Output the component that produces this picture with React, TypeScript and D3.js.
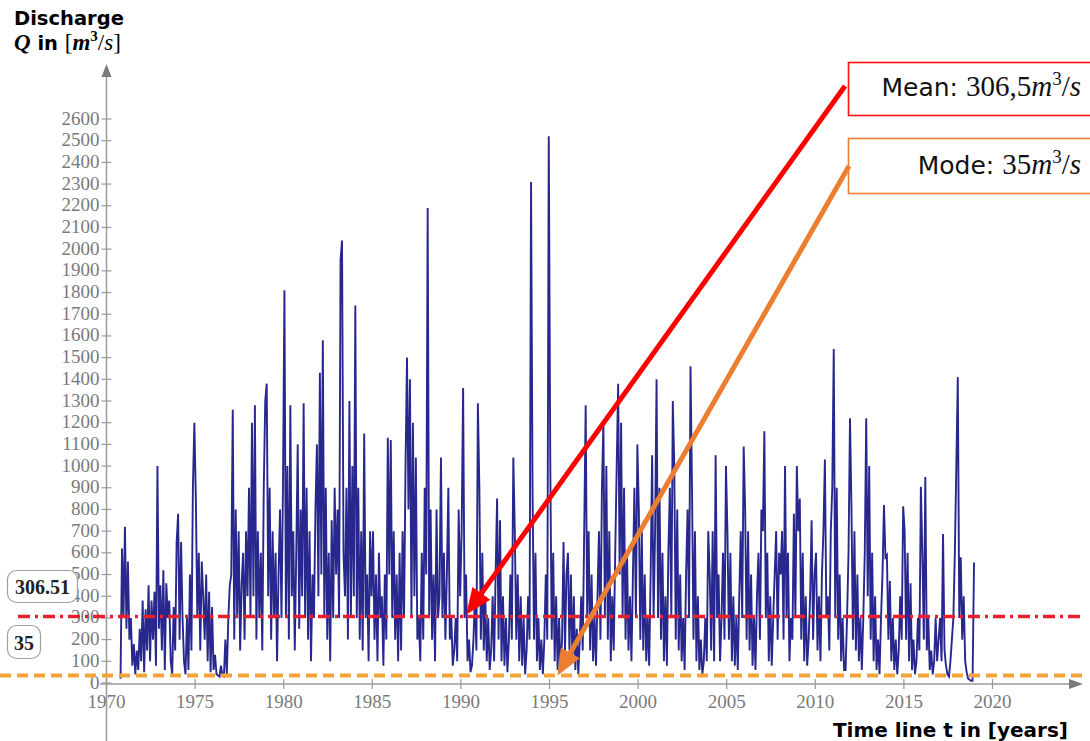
import React from "react";
import * as d3 from "d3";

// Monthly discharge values [m³/s], starting October 1970
const q1970s = [
  20, 620, 300,
  720, 250, 560, 200, 300, 80, 180, 40, 150, 60, 250, 100,
  380, 50, 340, 150, 450, 100, 380, 200, 420, 80, 1000, 250,
  450, 150, 520, 60, 460, 300, 380, 100, 40, 350, 150, 650,
  780, 200, 650, 300, 100, 40, 300, 60, 500, 150, 900, 1200,
  850, 300, 600, 150, 560, 400, 200, 500, 100, 420, 50, 350,
  60, 130, 40, 35, 30, 80, 35, 30, 200, 40, 300, 450,
  500, 1260, 200, 800, 300, 700, 150, 450, 600, 200, 700, 400,
  900, 300, 1200, 400, 1280, 200, 700, 300, 600, 150, 900, 1300,
  1380, 400, 900, 200, 700, 300, 600, 100, 500, 800, 300, 900,
];
const q1980s = [
  1810, 300, 1000, 200, 1280, 400, 700, 150, 600, 1100, 250, 800,
  400, 1290, 300, 900, 200, 700, 100, 500, 300, 800, 1100, 400,
  1430, 500, 1580, 300, 900, 200, 600, 100, 750, 300, 900, 500,
  800, 300, 1950, 2040, 600, 400, 900, 200, 1300, 300, 1000, 400,
  1740, 300, 900, 200, 700, 150, 1150, 300, 500, 100, 700, 400,
  700, 200, 500, 100, 600, 300, 400, 80, 500, 200, 1130, 500,
  1120, 300, 700, 200, 500, 100, 600, 150, 700, 300, 1000, 1500,
  800, 1400, 300, 1200, 400, 1040, 200, 300, 100, 600, 200, 900,
  500, 2190, 300, 800, 200, 500, 100, 800, 300, 400, 1040, 300,
  600, 200, 500, 900, 200, 300, 80, 150, 300, 100, 800, 400,
];
const q1990s = [
  700, 1360, 300, 500, 100, 200, 50, 80, 200, 400, 150, 1290,
  900, 200, 600, 150, 400, 100, 300, 60, 150, 400, 100, 500,
  850, 200, 750, 100, 400, 80, 300, 50, 200, 500, 200, 1040,
  700, 200, 500, 100, 400, 80, 300, 40, 150, 400, 200, 2310,
  900, 200, 600, 100, 300, 60, 200, 40, 200, 500, 200, 2520,
  1040, 200, 600, 100, 400, 60, 300, 50, 200, 650, 150, 500,
  600, 150, 500, 100, 400, 60, 250, 40, 200, 400, 150, 700,
  1280, 300, 700, 150, 500, 100, 300, 80, 400, 700, 200, 900,
  1200, 300, 1000, 200, 700, 100, 400, 150, 600, 1000, 1380, 500,
  1200, 300, 900, 200, 600, 150, 400, 100, 500, 900, 300, 1100,
];
const q2000s = [
  800, 200, 700, 150, 500, 100, 300, 80, 500, 1050, 300, 700,
  1400, 300, 900, 200, 600, 100, 400, 80, 600, 900, 300, 1300,
  1000, 200, 800, 150, 500, 100, 300, 60, 500, 800, 300, 1460,
  900, 200, 700, 100, 400, 60, 200, 40, 100, 300, 100, 700,
  500, 150, 700, 100, 1050, 300, 500, 100, 300, 600, 200, 1000,
  700, 200, 600, 100, 400, 80, 300, 60, 400, 700, 300, 1090,
  800, 200, 700, 150, 500, 80, 300, 60, 400, 600, 200, 800,
  700, 1160, 300, 600, 100, 400, 80, 300, 500, 700, 200, 600,
  500, 700, 200, 1000, 300, 600, 100, 300, 200, 780, 300, 1000,
  700, 850, 200, 600, 100, 400, 80, 200, 400, 750, 200, 500,
];
const q2010s = [
  600, 150, 400, 100, 500, 700, 1030, 300, 400, 150, 700, 900,
  1540, 300, 900, 200, 500, 100, 300, 60, 60, 300, 600, 1220,
  800, 200, 700, 150, 500, 100, 300, 60, 300, 600, 1220, 400,
  1000, 200, 600, 100, 400, 60, 200, 40, 300, 500, 820, 580,
  590, 200, 470, 100, 300, 60, 200, 40, 150, 400, 200, 815,
  700, 200, 600, 100, 460, 60, 200, 40, 100, 300, 150, 905,
  600, 200, 950, 150, 300, 60, 150, 40, 100, 300, 100, 200,
  300, 100, 687, 150, 80, 40, 30, 100, 200, 300, 600, 1000,
  1410, 300, 580, 200, 400, 100, 50, 20, 15, 10, 10, 555,
];
const seriesStart = 1970 + 9 / 12;

const yTicks = d3.range(0, 2700, 100);
const xTicks = [1970, 1975, 1980, 1985, 1990, 1995, 2000, 2005, 2010, 2015, 2020];
const meanValue = 306.51;
const modeValue = 35;
const meanLabel = "306.51";
const modeLabel = "35";

export default function App() {
  const W = 1090, H = 741;
  const x = d3.scaleLinear().domain([1970, 2020]).range([106.5, 992.5]);
  const y = d3.scaleLinear().domain([0, 2600]).range([683, 119]);

  const values = [...q1970s, ...q1980s, ...q1990s, ...q2000s, ...q2010s];
  const pts = values.map((v, i) => ({ t: seriesStart + (i + 0.5) / 12, v }));
  const line = d3.line<{ t: number; v: number }>().x(d => x(d.t)).y(d => y(d.v));

  const axisColor = "#9a9a9a";
  const tickFont = "'Liberation Serif', 'Times New Roman', serif";
  const sans = "'DejaVu Sans', Verdana, sans-serif";
  const serif = "'Liberation Serif', 'Times New Roman', serif";

  const x0 = x(1970);
  const y0 = y(0);
  const yMean = y(meanValue);
  const yMode = y(modeValue);

  const arrow = (x1: number, y1: number, x2: number, y2: number, color: string) => {
    const dx = x2 - x1, dy = y2 - y1;
    const len = Math.hypot(dx, dy);
    const ux = dx / len, uy = dy / len;
    const hl = 26, hw = 11;
    const bx = x2 - ux * hl, by = y2 - uy * hl;
    const px = -uy, py = ux;
    return (
      <g>
        <line x1={x1} y1={y1} x2={bx + ux * 2} y2={by + uy * 2} stroke={color} strokeWidth={5} />
        <path d={`M${x2},${y2} L${bx + px * hw},${by + py * hw} L${bx - px * hw},${by - py * hw} Z`} fill={color} />
      </g>
    );
  };

  return (
    <svg width={W} height={H} style={{ position: "absolute", left: 0, top: 0, background: "#fff" }}>
      {/* y axis */}
      <line x1={x0} y1={741} x2={x0} y2={76} stroke={axisColor} strokeWidth={1.5} />
      <path d={`M${x0},64 L${x0 - 5},77 L${x0 + 5},77 Z`} fill="#7a7a7a" />
      {yTicks.map(t => (
        <g key={t}>
          <line x1={x0 - 5} x2={x0 + 5} y1={y(t)} y2={y(t)} stroke={axisColor} strokeWidth={1.2} />
          <text x={x0 - 7} y={y(t) + 5.5} textAnchor="end" fontFamily={tickFont} fontSize={19} fill="#7a7a7a">{t}</text>
        </g>
      ))}
      {/* x axis */}
      <line x1={100} y1={y0 + 1} x2={1072} y2={y0 + 1} stroke={axisColor} strokeWidth={1.5} />
      <path d={`M1083,${y0 + 1} L1069,${y0 - 4} L1069,${y0 + 6} Z`} fill="#7a7a7a" />
      {xTicks.map(t => (
        <g key={t}>
          <line x1={x(t)} x2={x(t)} y1={y0 - 4} y2={y0 + 6} stroke={axisColor} strokeWidth={1.2} />
          <text x={x(t)} y={y0 + 25} textAnchor="middle" fontFamily={tickFont} fontSize={19} fill="#7a7a7a">{t}</text>
        </g>
      ))}

      {/* data */}
      <path d={line(pts) || ""} fill="none" stroke="#1b1b88" strokeWidth={1.9} strokeLinejoin="miter" opacity={0.95} />

      {/* mean and mode lines */}
      <line x1={18} x2={1085} y1={yMean} y2={yMean} stroke="#e8202e" strokeWidth={3.5} strokeDasharray="12,5,3,5" />
      <line x1={0} x2={1085} y1={yMode} y2={yMode} stroke="#f2a33a" strokeWidth={4} strokeDasharray="11,6" />

      {/* left labels */}
      <rect x={7.5} y={570.5} width={70} height={32} rx={9} fill="#fff" stroke="#a0a0a0" strokeWidth={1.2} />
      <text x={42.5} y={594} textAnchor="middle" fontFamily={serif} fontWeight="bold" fontSize={20} fill="#222">{meanLabel}</text>
      <rect x={7.5} y={625.5} width={33} height={33} rx={9} fill="#fff" stroke="#a0a0a0" strokeWidth={1.2} />
      <text x={24} y={649.5} textAnchor="middle" fontFamily={serif} fontWeight="bold" fontSize={20} fill="#222">{modeLabel}</text>

      {/* annotation boxes */}
      <rect x={848.5} y={62.5} width={245} height={53} fill="#fff" stroke="#ff1010" strokeWidth={1.6} />
      <text x={1081} y={96} textAnchor="end" fontSize={25} fill="#111">
        <tspan fontFamily={sans}>Mean: </tspan>
        <tspan fontFamily={serif} fontSize={29}>306,5</tspan>
        <tspan fontFamily={serif} fontSize={29} fontStyle="italic">m</tspan>
        <tspan fontFamily={serif} fontSize={19} dy={-11}>3</tspan>
        <tspan fontFamily={serif} fontSize={29} dy={11}>/</tspan>
        <tspan fontFamily={serif} fontSize={29} fontStyle="italic">s</tspan>
      </text>
      <rect x={848.5} y={138.5} width={245} height={55} fill="#fff" stroke="#ed7d31" strokeWidth={1.6} />
      <text x={1081} y={174} textAnchor="end" fontSize={25} fill="#111">
        <tspan fontFamily={sans}>Mode: </tspan>
        <tspan fontFamily={serif} fontSize={29}>35</tspan>
        <tspan fontFamily={serif} fontSize={29} fontStyle="italic">m</tspan>
        <tspan fontFamily={serif} fontSize={19} dy={-11}>3</tspan>
        <tspan fontFamily={serif} fontSize={29} dy={11}>/</tspan>
        <tspan fontFamily={serif} fontSize={29} fontStyle="italic">s</tspan>
      </text>

      {/* arrows */}
      {arrow(845, 86, x(1990.3), yMean - 2, "#ff0000")}
      {arrow(849, 166, x(1995.45), yMode, "#ed7d31")}

      {/* axis titles */}
      <text x={14} y={25} fontFamily={sans} fontWeight="bold" fontSize={19.5} fill="#000">Discharge</text>
      <text x={14} y={50} fontSize={19.5} fill="#000">
        <tspan fontFamily={serif} fontWeight="bold" fontStyle="italic" fontSize={23}>Q</tspan>
        <tspan fontFamily={sans} fontWeight="bold"> in </tspan>
        <tspan fontFamily={serif} fontSize={23}>[</tspan>
        <tspan fontFamily={serif} fontSize={23} fontStyle="italic" fontWeight="bold">m</tspan>
        <tspan fontFamily={serif} fontSize={15} fontWeight="bold" dy={-9}>3</tspan>
        <tspan fontFamily={serif} fontSize={23} dy={9}>/</tspan>
        <tspan fontFamily={serif} fontSize={23} fontStyle="italic">s</tspan>
        <tspan fontFamily={serif} fontSize={23}>]</tspan>
      </text>
      <text x={1068} y={737} textAnchor="end" fontFamily={sans} fontWeight="bold" fontSize={20} fill="#000">Time line t in [years]</text>
    </svg>
  );
}
